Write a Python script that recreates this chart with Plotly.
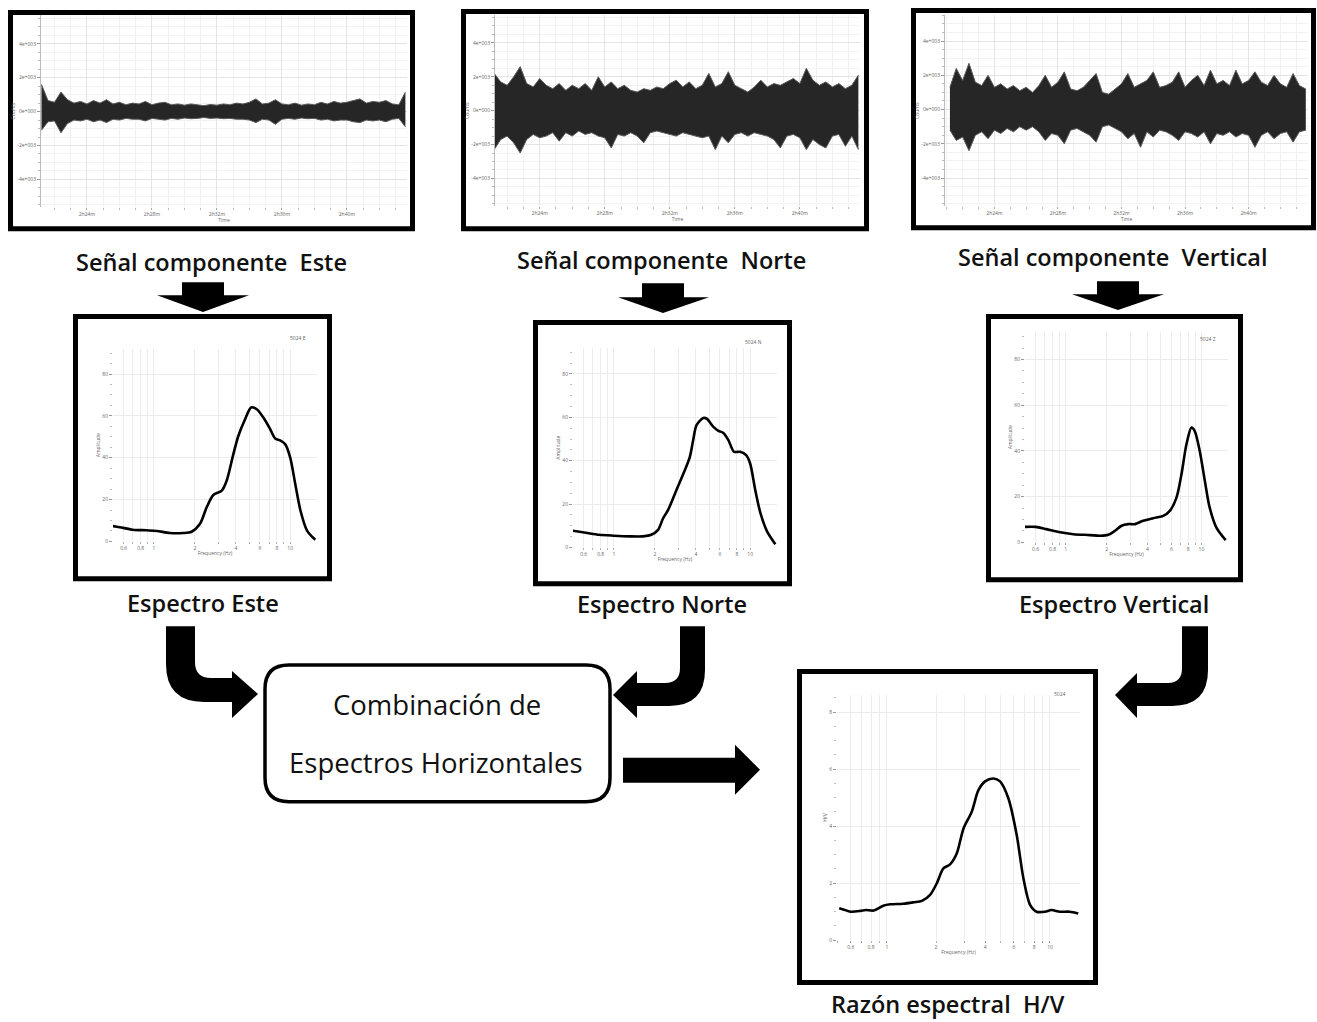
import plotly.graph_objects as go

W, H = 1317, 1022

# ---------------- data ----------------
TIME_MIN = [21.2, 21.6, 22.0, 22.4, 22.8, 23.2, 23.6, 24.0, 24.4, 24.8,
            25.2, 25.6, 26.0, 26.4, 26.8, 27.2, 27.6, 28.0, 28.4, 28.8,
            29.2, 29.6, 30.0, 30.4, 30.8, 31.2, 31.6, 32.0, 32.4, 32.8,
            33.2, 33.6, 34.0, 34.4, 34.8, 35.2, 35.6, 36.0, 36.4, 36.8,
            37.2, 37.6, 38.0, 38.4, 38.8, 39.2, 39.6, 40.0, 40.4, 40.8,
            41.2, 41.6, 42.0, 42.4, 42.8, 43.2, 43.6]

ESTE_UP = [1600, 650, 550, 1150, 700, 500, 600, 450, 650, 500,
           700, 450, 550, 400, 500, 450, 600, 400, 500, 550,
           400, 450, 380, 450, 400, 350, 420, 380, 450, 400,
           500, 450, 550, 750, 450, 500, 700, 450, 400, 500,
           380, 450, 400, 550, 450, 600, 500, 550, 650, 750,
           500, 600, 550, 650, 450, 400, 1150]
ESTE_LO = [-1100, -600, -550, -1250, -700, -500, -550, -450, -600, -500,
           -650, -450, -500, -400, -450, -450, -550, -400, -450, -500,
           -400, -450, -380, -420, -400, -350, -400, -380, -420, -400,
           -450, -450, -500, -650, -450, -500, -750, -450, -400, -450,
           -380, -420, -400, -500, -450, -550, -500, -500, -600, -650,
           -500, -550, -500, -600, -450, -400, -900]

NORTE_UP = [2200, 1700, 1500, 2000, 2600, 1600, 1400, 1900, 1500, 1300,
            1600, 1200, 1500, 1300, 1600, 1200, 2000, 1400, 1700, 1300,
            1500, 1200, 1100, 1300, 1200, 1400, 1300, 1600, 1800, 1400,
            1700, 1300, 1500, 2200, 1400, 1600, 2300, 1500, 1300, 1100,
            1400, 1800, 1400, 1600, 1500, 1700, 1900, 1600, 2500, 1800,
            1500, 1700, 1400, 1600, 1300, 1500, 2100]
NORTE_LO = [-2300, -1700, -1500, -1900, -2500, -1700, -1400, -1600, -1500, -1300,
            -1800, -1300, -1500, -1200, -1400, -1300, -1500, -1600, -2200, -1400,
            -1500, -1300, -1500, -1900, -1300, -1200, -1300, -1400, -1500, -1300,
            -1400, -1500, -1600, -1500, -2300, -1500, -1900, -1400, -1300, -1500,
            -1300, -1400, -1500, -1700, -2200, -1500, -1400, -1600, -2300, -1700,
            -2000, -2200, -1500, -1400, -2100, -1500, -2300]

VERT_UP = [1300, 2400, 1700, 2700, 1600, 1400, 2000, 1300, 1500, 1200,
           1400, 1100, 1300, 1000, 1400, 2000, 1300, 1600, 2200, 1200,
           1100, 1300, 1700, 2100, 1000, 900, 1200, 1500, 2100, 1300,
           1500, 1700, 2200, 1300, 1400, 1600, 2200, 1300, 1700, 2000,
           1400, 2300, 1500, 1700, 1400, 2300, 1500, 1700, 2200, 1600,
           1400, 2000, 1500, 1300, 2100, 1400, 1200]
VERT_LO = [-1200, -1800, -1600, -2400, -1500, -1300, -1700, -1200, -1400, -1100,
           -1300, -1000, -1200, -1000, -1300, -1800, -1400, -1500, -2000, -1200,
           -1100, -1300, -1500, -1900, -1000, -900, -1100, -1300, -1700, -1400,
           -2200, -1300, -1600, -1200, -1300, -1500, -1800, -1300, -1400, -1600,
           -1300, -2000, -1400, -1500, -1300, -1600, -1400, -1500, -2200, -1500,
           -1300, -1700, -1400, -1300, -1900, -1300, -1200]

SPEC_E_FREQ = [0.47, 0.56, 0.70, 0.88, 1.05, 1.31, 1.64, 1.89, 2.18, 2.44,
               2.73, 3.15, 3.42, 3.83, 4.17, 4.67, 5.17, 5.69, 6.36, 7.13,
               7.76, 8.44, 9.19, 10.0, 10.9, 11.9, 13.3, 15.3]
SPEC_E_AMP = [7.6, 6.8, 5.6, 5.3, 5.0, 4.0, 4.0, 4.6, 8.4, 16.3,
              22.2, 24.3, 29.0, 41.7, 50.5, 58.4, 64.0, 63.2, 59.2, 53.7,
              49.2, 48.3, 46.5, 40.2, 27.5, 14.8, 5.2, 0.8]

SPEC_N_FREQ = [0.50, 0.64, 0.78, 1.0, 1.30, 1.64, 1.88, 2.11, 2.30, 2.50,
               2.88, 3.32, 3.61, 3.82, 4.04, 4.53, 4.80, 5.37, 5.85, 6.36,
               6.92, 7.62, 8.44, 9.35, 10.0, 10.9, 11.9, 13.3, 15.3]
SPEC_N_AMP = [7.7, 6.6, 5.8, 5.4, 5.1, 5.1, 5.8, 8.1, 13.5, 17.3,
              26.5, 35.7, 41.8, 49.5, 56.4, 59.7, 59.4, 55.6, 53.8, 52.8,
              49.5, 44.1, 44.1, 42.6, 38.7, 26.5, 15.8, 7.4, 1.5]

SPEC_V_FREQ = [0.50, 0.60, 0.72, 0.91, 1.14, 1.51, 1.79, 2.06, 2.31, 2.58,
               2.89, 3.24, 3.72, 4.41, 5.23, 5.85, 6.55, 7.13, 7.76, 8.44,
               8.93, 9.72, 10.6, 11.5, 12.9, 15.1]
SPEC_V_AMP = [6.8, 6.8, 5.8, 4.4, 3.6, 3.2, 2.9, 3.3, 5.1, 7.3,
              8.0, 8.0, 9.5, 10.6, 11.6, 13.8, 19.6, 29.8, 42.9, 50.2,
              48.7, 40.0, 26.9, 15.3, 6.5, 1.0]

HV_FREQ = [0.51, 0.54, 0.60, 0.69, 0.74, 0.83, 0.95, 1.05, 1.26, 1.46,
           1.64, 1.84, 2.02, 2.22, 2.44, 2.68, 2.95, 3.31, 3.64, 4.0,
           4.5, 4.94, 5.56, 6.25, 6.87, 7.55, 8.28, 9.31, 10.2, 11.5,
           13.2, 14.9]
HV_RATIO = [1.12, 1.08, 1.0, 1.03, 1.06, 1.04, 1.21, 1.26, 1.28, 1.33,
            1.38, 1.59, 1.99, 2.52, 2.66, 3.04, 3.92, 4.5, 5.26, 5.57,
            5.67, 5.57, 4.97, 3.69, 2.17, 1.24, 1.0, 1.0, 1.06, 1.0,
            1.0, 0.94]

SIG_YTICKS = [-4000, -2000, 0, 2000, 4000]
SIG_YTEXT = ["-4e+003", "-2e+003", "0e+000", "2e+003", "4e+003"]
SIG_XTICKS = [24, 28, 32, 36, 40]
SIG_XTEXT = ["2h24m", "2h28m", "2h32m", "2h36m", "2h40m"]
FREQ_TICKS = [0.5, 0.6, 0.7, 0.8, 0.9, 1, 2, 3, 4, 5, 6, 7, 8, 9, 10]
FREQ_TEXT = ["", "0.6", "", "0.8", "", "1", "2", "", "4", "", "6", "", "8", "", "10"]
AMP_TICKS = [0, 20, 40, 60, 80]
HV_TICKS = [0, 2, 4, 6, 8]

SIGNAL_TITLES = ["Señal componente\u00a0 Este", "Señal componente\u00a0 Norte",
                 "Señal componente\u00a0 Vertical"]
SPEC_TITLES = ["Espectro Este", "Espectro Norte", "Espectro Vertical"]
SPEC_TAGS = ["5024 E", "5024 N", "5024 Z", "5024"]
HV_TITLE = "Razón espectral\u00a0 H/V"
BOX_LINES = ["Combinación de", "Espectros Horizontales"]

# ---------------- helpers ----------------
def xd(a, b):
    return [a / W, b / W]

def yd(top, bottom):
    return [1 - bottom / H, 1 - top / H]

TICKFONT = dict(family="Open Sans", size=5, color="#666")
TITLEFONT = dict(family="Open Sans", size=5, color="#666")
GRID = "#e4e4e4"

fig = go.Figure()
layout = dict(width=W, height=H, margin=dict(l=0, r=0, t=0, b=0),
              paper_bgcolor="white", plot_bgcolor="rgba(0,0,0,0)",
              showlegend=False)

# signal panels
sig_panels = [
    (ESTE_UP, ESTE_LO, (41, 407), (15, 208), [21.17, 43.7], [-5650, 5700]),
    (NORTE_UP, NORTE_LO, (495, 860), (15, 207), [21.25, 43.7], [-5650, 5650]),
    (VERT_UP, VERT_LO, (945, 1308), (15, 207), [20.89, 43.74], [-5650, 5520]),
]
for i, (up, lo, xp, yp, xr, yr) in enumerate(sig_panels, start=1):
    fig.add_trace(go.Scatter(x=TIME_MIN, y=up, xaxis=f"x{i}", yaxis=f"y{i}",
                             mode="lines", line=dict(color="#5a5a5a", width=1),
                             hoverinfo="skip"))
    fig.add_trace(go.Scatter(x=TIME_MIN, y=lo, xaxis=f"x{i}", yaxis=f"y{i}",
                             mode="lines", line=dict(color="#5a5a5a", width=1),
                             fill="tonexty", fillcolor="#262626", hoverinfo="skip"))
    layout[f"xaxis{i}"] = dict(domain=xd(*xp), range=xr, anchor=f"y{i}",
                               tickmode="array", tickvals=SIG_XTICKS, ticktext=SIG_XTEXT,
                               tickfont=TICKFONT, ticks="outside", ticklen=2, tickcolor="#aaa",
                               showgrid=True, gridcolor=GRID, gridwidth=1, zeroline=False,
                               minor=dict(tickmode="linear", tick0=0, dtick=1, ticks="outside",
                                          ticklen=2, tickcolor="#bbb", showgrid=True,
                                          gridcolor="#f1f1f1"),
                               title=dict(text="Time", font=TITLEFONT, standoff=1),
                               fixedrange=True)
    layout[f"yaxis{i}"] = dict(domain=yd(*yp), range=yr, anchor=f"x{i}",
                               tickmode="array", tickvals=SIG_YTICKS, ticktext=SIG_YTEXT,
                               tickfont=TICKFONT, ticks="outside", ticklen=3, tickcolor="#999",
                               showline=True, linecolor="#bbb", linewidth=1,
                               showgrid=True, gridcolor=GRID, zeroline=False,
                               minor=dict(tickmode="linear", tick0=0, dtick=500, ticks="outside",
                                          ticklen=2, tickcolor="#bbb", showgrid=True,
                                          gridcolor="#f3f3f3"),
                               title=dict(text="Counts", font=TITLEFONT, standoff=1),
                               fixedrange=True)

# spectrum panels
spec_panels = [
    (SPEC_E_FREQ, SPEC_E_AMP, (113, 317), (350, 543), [-0.30, 1.197], [0, 92], AMP_TICKS, 5, "Amplitude"),
    (SPEC_N_FREQ, SPEC_N_AMP, (573, 777), (349, 549), [-0.30, 1.197], [0, 92], AMP_TICKS, 5, "Amplitude"),
    (SPEC_V_FREQ, SPEC_V_AMP, (1025, 1228), (333, 544), [-0.30, 1.196], [0, 92], AMP_TICKS, 5, "Amplitude"),
    (HV_FREQ, HV_RATIO, (837, 1080), (697, 943), [-0.306, 1.184], [0, 8.6], HV_TICKS, 0.5, "H/V"),
]
for j, (fx, fy, xp, yp, xr, yr, yt, ydt, ytitle) in enumerate(spec_panels, start=4):
    fig.add_trace(go.Scatter(x=fx, y=fy, xaxis=f"x{j}", yaxis=f"y{j}", mode="lines",
                             line=dict(color="black", width=2.6, shape="spline", smoothing=0.8),
                             hoverinfo="skip"))
    layout[f"xaxis{j}"] = dict(domain=xd(*xp), range=xr, type="log", anchor=f"y{j}",
                               tickmode="array", tickvals=FREQ_TICKS, ticktext=FREQ_TEXT,
                               tickfont=TICKFONT, ticks="outside", ticklen=2, tickcolor="#aaa",
                               showgrid=True, gridcolor="#ececec", zeroline=False,
                               title=dict(text="Frequency (Hz)", font=TITLEFONT, standoff=1),
                               fixedrange=True)
    layout[f"yaxis{j}"] = dict(domain=yd(*yp), range=yr, anchor=f"x{j}",
                               tickmode="array", tickvals=yt,
                               tickfont=TICKFONT, ticks="outside", ticklen=3, tickcolor="#999",
                               showgrid=True, gridcolor="#ececec", zeroline=False,
                               minor=dict(tickmode="linear", tick0=0, dtick=ydt, ticks="outside",
                                          ticklen=2, tickcolor="#bbb", showgrid=False),
                               title=dict(text=ytitle, font=TITLEFONT, standoff=1),
                               fixedrange=True)

# overlay pixel axis for frames, arrows and labels
fig.add_trace(go.Scatter(x=[None], y=[None], xaxis="x8", yaxis="y8", hoverinfo="skip"))
layout["xaxis8"] = dict(domain=[0, 1], range=[0, W], anchor="y8", visible=False, fixedrange=True)
layout["yaxis8"] = dict(domain=[0, 1], range=[H, 0], anchor="x8", visible=False, fixedrange=True)

shapes = []
frames = [(10.5, 12.5, 412.5, 229.5), (463.5, 11.5, 866.5, 229.5), (913.5, 10.5, 1313.5, 228.5),
          (75.5, 317.5, 329.5, 580.5), (535.5, 323.5, 789.5, 585.5), (988.5, 317.5, 1240.5, 581.5),
          (799.5, 673.5, 1095.5, 985.5)]
for x0, y0, x1, y1 in frames:
    shapes.append(dict(type="rect", xref="x8", yref="y8", x0=x0, y0=y0, x1=x1, y1=y1,
                       line=dict(color="black", width=5), fillcolor="rgba(0,0,0,0)", layer="above"))

# rounded box
bx0, by0, bx1, by1, r = 265, 667, 610, 804, 24
box = (f"M {bx0+r},{by0} L {bx1-r},{by0} Q {bx1},{by0} {bx1},{by0+r} "
       f"L {bx1},{by1-r} Q {bx1},{by1} {bx1-r},{by1} L {bx0+r},{by1} "
       f"Q {bx0},{by1} {bx0},{by1-r} L {bx0},{by0+r} Q {bx0},{by0} {bx0+r},{by0} Z")
shapes.append(dict(type="path", xref="x8", yref="y8", path=box,
                   line=dict(color="black", width=3.5), fillcolor="white", layer="above"))

arrows = [
    # down arrows
    "M 182,283 L 224,283 L 224,296 L 249,296 L 203,313 L 157,296 L 182,296 Z",
    "M 642,284 L 684,284 L 684,298 L 709,298 L 663,314 L 618,298 L 642,298 Z",
    "M 1097,282 L 1139,282 L 1139,295 L 1164,295 L 1118,311 L 1072,295 L 1097,295 Z",
    # curved arrows
    "M 166,628 L 195,628 L 195,664 Q 195,680 211,680 L 232,680 L 232,673 L 258,696 "
    "L 232,720 L 232,704 L 204,704 Q 166,704 166,666 Z",
    "M 680,628 L 705,628 L 705,672 Q 705,708 669,708 L 637,708 L 637,720 L 613,697 "
    "L 637,673 L 637,685 L 665,685 Q 680,685 680,670 Z",
    "M 1182,628 L 1208,628 L 1208,672 Q 1208,708 1172,708 L 1137,708 L 1137,720 L 1115,697 "
    "L 1137,675 L 1137,685 L 1168,685 Q 1182,685 1182,670 Z",
    # straight arrow
    "M 623,760 L 735,760 L 735,747 L 760,772 L 735,797 L 735,785 L 623,785 Z",
]
for p in arrows:
    shapes.append(dict(type="path", xref="x8", yref="y8", path=p,
                       line=dict(color="black", width=0), fillcolor="black", layer="above"))
layout["shapes"] = shapes

LABEL = dict(family="Open Sans", size=23.5, color="#111", weight=600)
BOXF = dict(family="Open Sans", size=27.5, color="#111")
ann = []
for t, (x, y) in zip(SIGNAL_TITLES, [(211, 263), (661, 261), (1113, 258)]):
    ann.append(dict(text=t, x=x, y=y, font=LABEL))
for t, (x, y) in zip(SPEC_TITLES, [(203, 605), (662, 606), (1114, 606)]):
    ann.append(dict(text=t, x=x, y=y, font=LABEL))
ann.append(dict(text=HV_TITLE, x=948, y=1007, font=LABEL))
ann.append(dict(text=BOX_LINES[0], x=437, y=707, font=BOXF))
ann.append(dict(text=BOX_LINES[1], x=436, y=765, font=BOXF))
for t, (x, y) in zip(SPEC_TAGS, [(308, 339), (764, 343), (1218, 340), (1068, 696)]):
    ann.append(dict(text=t, x=x, y=y, font=dict(family="Open Sans", size=5, color="#666"),
                    xanchor="right"))
for a in ann:
    a.update(xref="x8", yref="y8", showarrow=False)
    a.setdefault("xanchor", "center")
    a["yanchor"] = "middle"
layout["annotations"] = ann

fig.update_layout(**layout)
fig.write_html(
    "out.html",
    config={"displayModeBar": False},
    post_script="document.body.style.margin='0';document.body.style.padding='0';"
                "document.body.style.overflow='hidden';",
)
